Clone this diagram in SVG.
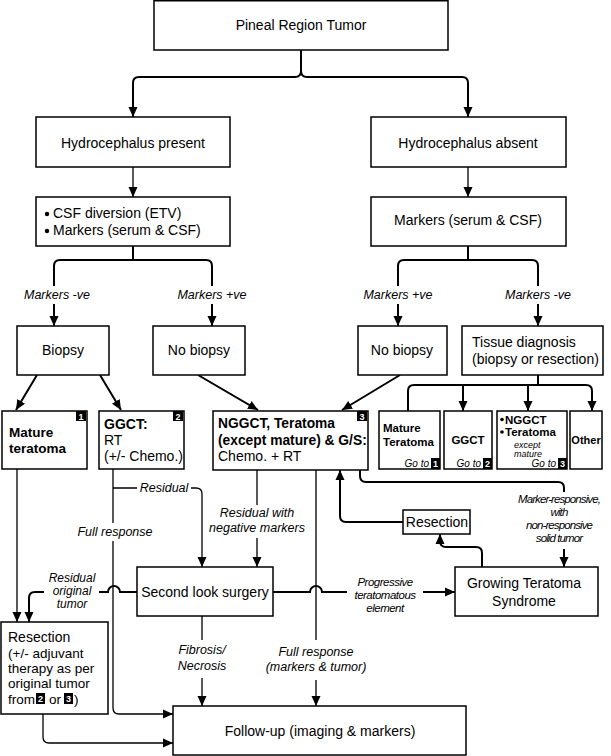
<svg xmlns="http://www.w3.org/2000/svg" width="611" height="756" viewBox="0 0 611 756">
<style>
text{font-family:"Liberation Sans",Arial,sans-serif;fill:#000}
.bx{fill:#fff;stroke:#000;stroke-width:1.5}
.t{font-size:14px}
.m{text-anchor:middle}
.b{font-weight:bold}
.lb{font-size:12.5px;font-style:italic;text-anchor:middle}
.lc{font-size:11.5px;font-style:italic;text-anchor:middle;letter-spacing:-0.5px}
.sm{font-size:11.5px;font-weight:bold}
.go{font-size:10px;font-style:italic;text-anchor:end}
.ex{font-size:9px;font-style:italic}
.bd{fill:#000}
.bn{font-size:9px;font-weight:bold;fill:#fff;text-anchor:middle}
.c{fill:none;stroke:#000;stroke-width:1.3}
.cb{fill:none;stroke:#000;stroke-width:2}
</style>
<defs>
<marker id="ah" markerWidth="10" markerHeight="10" refX="10" refY="5" orient="auto" markerUnits="userSpaceOnUse"><path d="M0,0.5 L10,5 L0,9.5 z" fill="#000"/></marker>
</defs>

<g id="connectors">
<path class="cb" d="M301,50 V71 Q301,77 295,77 H139 Q133,77 133,83 V117" marker-end="url(#ah)"/>
<path class="cb" d="M301,71 Q301,77 307,77 H462 Q468,77 468,83 V117" marker-end="url(#ah)"/>
<path class="c" d="M133,167 V197" marker-end="url(#ah)"/>
<path class="c" d="M468,167 V197" marker-end="url(#ah)"/>
<path class="cb" d="M133,246 V260 M133,260 H60 Q54,260 54,266 V286 M133,260 H206 Q212,260 212,266 V286"/>
<path class="cb" d="M54,304 V326" marker-end="url(#ah)"/>
<path class="cb" d="M212,304 V326" marker-end="url(#ah)"/>
<path class="cb" d="M468,246 V260 M468,260 H404 Q398,260 398,266 V286 M468,260 H532 Q538,260 538,266 V286"/>
<path class="cb" d="M398,304 V326" marker-end="url(#ah)"/>
<path class="cb" d="M538,304 V326" marker-end="url(#ah)"/>
<path class="cb" d="M37,375 L16,410" marker-end="url(#ah)"/>
<path class="cb" d="M100,375 L121,410" marker-end="url(#ah)"/>
<path class="cb" d="M198,375 L258,410" marker-end="url(#ah)"/>
<path class="cb" d="M400,375 L342,410" marker-end="url(#ah)"/>
<path class="cb" d="M538,375 V385"/>
<path class="cb" d="M408,411 V391 Q408,385 414,385 H586 Q592,385 592,391 V411" marker-start="url(#ah)" marker-end="url(#ah)"/>
<path class="cb" d="M463,385 V411" marker-end="url(#ah)"/>
<path class="cb" d="M528,385 V411" marker-end="url(#ah)"/>
<path class="c" d="M17,469 V622" marker-end="url(#ah)"/>
<path class="c" d="M113,469 V523 M113,541 V708 Q113,714 119,714 H173" marker-end="url(#ah)"/>
<path class="c" d="M113,488 H137 M191,488 H196 Q202,488 202,494 V567" marker-end="url(#ah)"/>
<path class="c" d="M257,470 V505 M257,538 V567" marker-end="url(#ah)"/>
<path class="c" d="M316,470 V640 M316,680 V706" marker-end="url(#ah)"/>
<path class="c" d="M202,616 V640 M202,678 V706" marker-end="url(#ah)"/>
<path class="cb" d="M273,592 H310 A6,6 0 0 1 322,592 H347 M423,592 H455" marker-end="url(#ah)"/>
<path class="cb" d="M137,592 H120 A6,6 0 0 0 108,592 H99 M44,592 H35 Q29,592 29,598 V622" marker-end="url(#ah)"/>
<path class="cb" d="M360,470 V476 Q360,482 366,482 H558 Q564,482 564,488 V492 M564,549 V567" marker-end="url(#ah)"/>
<path class="cb" d="M482,567 V553 Q482,547 476,547 H446 Q440,547 440,541 V534" marker-end="url(#ah)"/>
<path class="cb" d="M403,522 H346 Q340,522 340,516 V470" marker-end="url(#ah)"/>
<path class="c" d="M43,714 V737 Q43,743 49,743 H173" marker-end="url(#ah)"/>
<text class="lb" x="57" y="299">Markers -ve</text>
<text class="lb" x="212" y="299">Markers +ve</text>
<text class="lb" x="398" y="299">Markers +ve</text>
<text class="lb" x="538" y="299">Markers -ve</text>
<text class="lb" x="164" y="492">Residual</text>
<text class="lb" x="115" y="536">Full response</text>
<text class="lb" x="257" y="517">Residual with</text>
<text class="lb" x="257" y="532">negative markers</text>
<text class="lb" x="316" y="656">Full response</text>
<text class="lb" x="316" y="671">(markers &amp; tumor)</text>
<text class="lb" x="202" y="654">Fibrosis/</text>
<text class="lb" x="202" y="670">Necrosis</text>
<text class="lc" x="385" y="586">Progressive</text>
<text class="lc" x="385" y="599">teratomatous</text>
<text class="lc" x="385" y="612">element</text>
<text class="lb" x="72" y="582" style="font-size:12px">Residual</text>
<text class="lb" x="72" y="595" style="font-size:12px">original</text>
<text class="lb" x="72" y="608" style="font-size:12px">tumor</text>
<text class="lc" x="559" y="503" style="letter-spacing:-0.9px">Marker-responsive,</text>
<text class="lc" x="559" y="516" style="letter-spacing:-0.9px">with</text>
<text class="lc" x="559" y="529" style="letter-spacing:-0.9px">non-responsive</text>
<text class="lc" x="559" y="542" style="letter-spacing:-0.9px">solid tumor</text>
</g>

<g id="n-top"><rect class="bx" x="154" y="0.75" width="294" height="49.25"/><text class="t m" x="301" y="30">Pineal Region Tumor</text></g>
<g id="n-hp"><rect class="bx" x="36" y="117" width="194" height="50"/><text class="t m" x="133" y="148">Hydrocephalus present</text></g>
<g id="n-ha"><rect class="bx" x="371" y="117" width="195" height="50"/><text class="t m" x="468" y="148">Hydrocephalus absent</text></g>
<g id="n-csf"><rect class="bx" x="36" y="197" width="194" height="49"/><circle cx="47" cy="214" r="2.2"/><text class="t" x="53" y="218">CSF diversion (ETV)</text><circle cx="47" cy="231" r="2.2"/><text class="t" x="53" y="235">Markers (serum &amp; CSF)</text></g>
<g id="n-markers"><rect class="bx" x="371" y="197" width="195" height="49"/><text class="t m" x="468" y="225">Markers (serum &amp; CSF)</text></g>
<g id="n-biopsy"><rect class="bx" x="17" y="326" width="92" height="49"/><text class="t m" x="63" y="355">Biopsy</text></g>
<g id="n-nobiopsy1"><rect class="bx" x="153" y="326" width="92" height="49"/><text class="t m" x="199" y="355">No biopsy</text></g>
<g id="n-nobiopsy2"><rect class="bx" x="358" y="326" width="89" height="49"/><text class="t m" x="402" y="355">No biopsy</text></g>
<g id="n-tissue"><rect class="bx" x="462" y="326" width="141" height="49"/><text class="t" x="472" y="347">Tissue diagnosis</text><text class="t" x="472" y="364">(biopsy or resection)</text></g>
<g id="n-mature"><rect class="bx" x="2" y="411" width="85" height="58"/><rect class="bd" x="76" y="411" width="10" height="10"/><text class="bn" x="81" y="419.5">1</text><text class="t b" x="9" y="437" style="font-size:13.5px">Mature</text><text class="t b" x="9" y="453" style="font-size:13.5px">teratoma</text></g>
<g id="n-ggct"><rect class="bx" x="99" y="411" width="85" height="58"/><rect class="bd" x="173" y="411" width="10" height="10"/><text class="bn" x="178" y="419.5">2</text><text class="t b" x="104" y="429">GGCT:</text><text class="t" x="104" y="445">RT</text><text class="t" x="104" y="461">(+/- Chemo.)</text></g>
<g id="n-nggct"><rect class="bx" x="213" y="411" width="155" height="59"/><rect class="bd" x="357" y="411" width="10" height="10"/><text class="bn" x="362" y="419.5">3</text><text class="t b" x="218" y="428" style="font-size:13.8px">NGGCT, Teratoma</text><text class="t b" x="218" y="445" style="font-size:13.8px">(except mature) &amp; G/S:</text><text class="t" x="218" y="461">Chemo. + RT</text></g>
<g id="n-sub-mature"><rect class="bx" x="379" y="411" width="61" height="58"/><text class="sm" x="383" y="432">Mature</text><text class="sm" x="383" y="446">Teratoma</text><text class="go" x="429" y="467">Go to</text><rect class="bd" x="431" y="458" width="9" height="11"/><text class="bn" x="435.5" y="467">1</text></g>
<g id="n-sub-ggct"><rect class="bx" x="444" y="411" width="48" height="58"/><text class="sm m" x="468" y="444">GGCT</text><text class="go" x="481" y="467">Go to</text><rect class="bd" x="483" y="458" width="9" height="11"/><text class="bn" x="487.5" y="467">2</text></g>
<g id="n-sub-nggct"><rect class="bx" x="497" y="411" width="70" height="58"/><circle cx="502" cy="419.5" r="1.8"/><text class="sm" x="505" y="423.5">NGGCT</text><circle cx="502" cy="432" r="1.8"/><text class="sm" x="505" y="436">Teratoma</text><text class="ex" x="514" y="447.5">except</text><text class="ex" x="514" y="456.5">mature</text><text class="go" x="556" y="467">Go to</text><rect class="bd" x="558" y="458" width="9" height="11"/><text class="bn" x="562.5" y="467">3</text></g>
<g id="n-sub-other"><rect class="bx" x="570" y="411" width="32" height="58"/><text class="sm m" x="586" y="444" style="font-size:11px">Other</text></g>
<g id="n-resection-mid"><rect class="bx" x="403" y="510" width="67" height="24"/><text class="t m" x="437" y="527">Resection</text></g>
<g id="n-gts"><rect class="bx" x="455" y="567" width="143" height="49"/><text class="t m" x="524" y="588">Growing Teratoma</text><text class="t m" x="524" y="606">Syndrome</text></g>
<g id="n-second"><rect class="bx" x="137" y="567" width="136" height="49"/><text class="t m" x="205" y="597">Second look surgery</text></g>
<g id="n-resection"><rect class="bx" x="1" y="622" width="107" height="92"/><text class="t" x="8" y="642">Resection</text><text class="t" x="8" y="658" style="font-size:13.5px">(+/- adjuvant</text><text class="t" x="8" y="673" style="font-size:13.5px">therapy as per</text><text class="t" x="8" y="688" style="font-size:13.5px">original tumor</text><text class="t" x="8" y="704" style="font-size:13.5px">from</text><rect class="bd" x="36" y="693" width="9" height="11"/><text class="bn" x="40.5" y="702">2</text><text class="t" x="49" y="704" style="font-size:13.5px">or</text><rect class="bd" x="64" y="693" width="9" height="11"/><text class="bn" x="68.5" y="702">3</text><text class="t" x="74" y="704" style="font-size:13.5px">)</text></g>
<g id="n-followup"><rect class="bx" x="173" y="706" width="293" height="49"/><text class="t m" x="320" y="736">Follow-up (imaging &amp; markers)</text></g>
</svg>
